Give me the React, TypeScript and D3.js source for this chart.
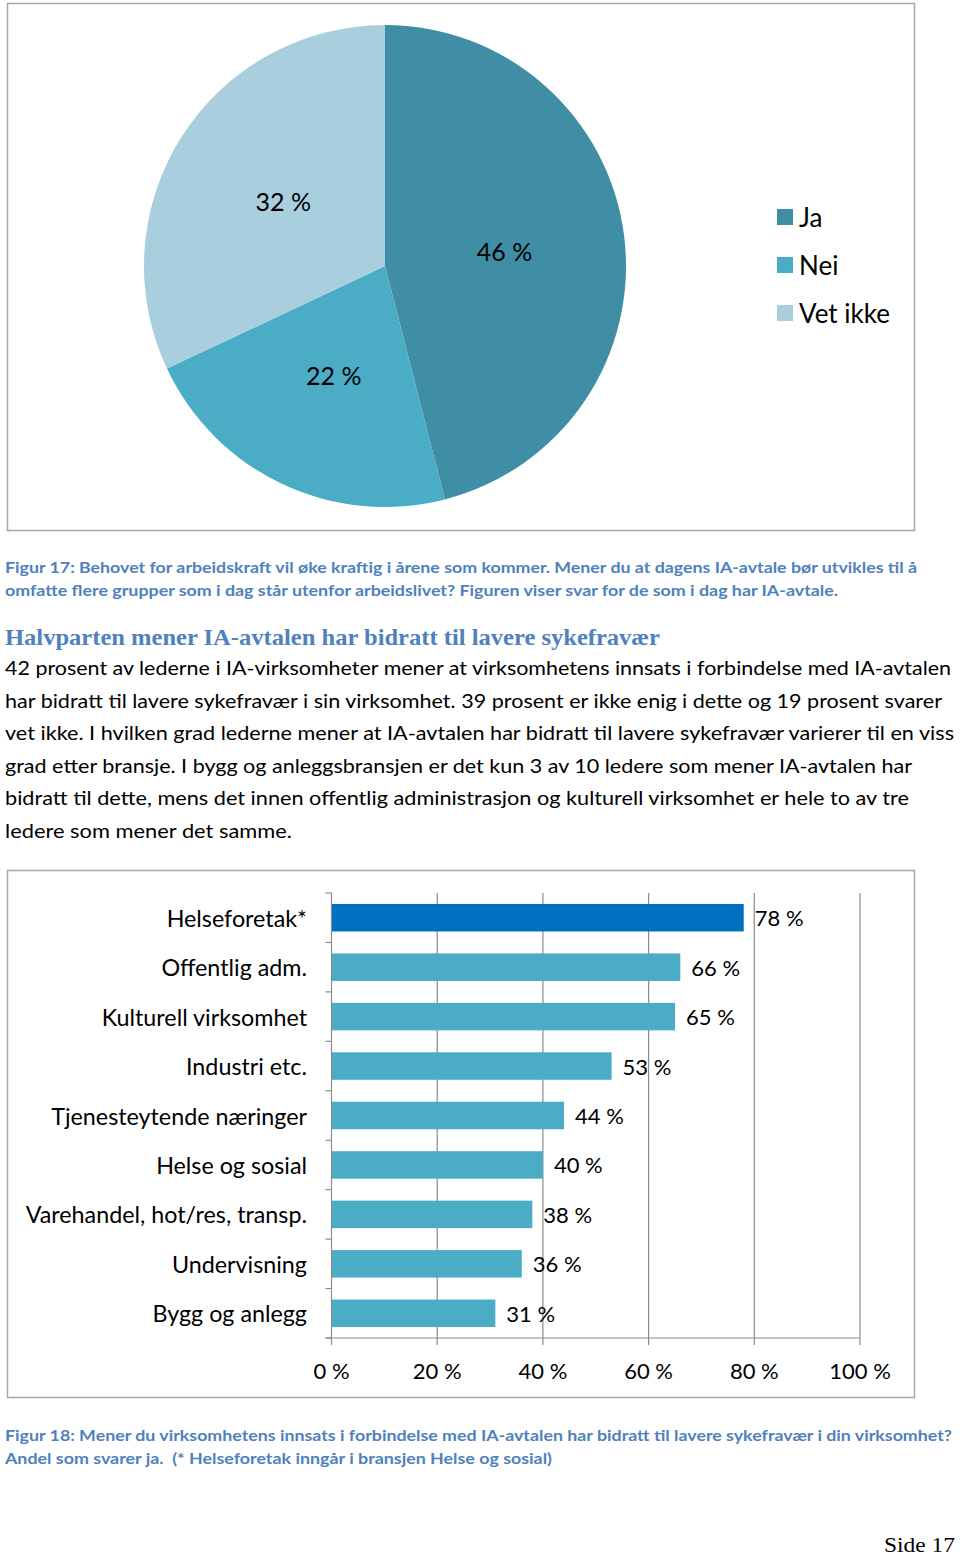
import React from "react";
import * as d3 from "d3";

const pieLabels = ["Ja", "Nei", "Vet ikke"];
const pieValues = [46, 22, 32];
const pieColors = ["#3F8EA5", "#4BACC6", "#A9CEDD"];

const barCategories = [
  "Helseforetak*",
  "Offentlig adm.",
  "Kulturell virksomhet",
  "Industri etc.",
  "Tjenesteytende næringer",
  "Helse og sosial",
  "Varehandel, hot/res, transp.",
  "Undervisning",
  "Bygg og anlegg",
];
const barValues = [78, 66, 65, 53, 44, 40, 38, 36, 31];
const xTicks = [0, 20, 40, 60, 80, 100];

const caption17 = [
  "Figur 17: Behovet for arbeidskraft vil øke kraftig i årene som kommer. Mener du at dagens IA-avtale bør utvikles til å",
  "omfatte flere grupper som i dag står utenfor arbeidslivet? Figuren viser svar for de som i dag har IA-avtale.",
];
const heading = "Halvparten mener IA-avtalen har bidratt til lavere sykefravær";
const bodyLines = [
  "42 prosent av lederne i IA-virksomheter mener at virksomhetens innsats i forbindelse med IA-avtalen",
  "har bidratt til lavere sykefravær i sin virksomhet. 39 prosent er ikke enig i dette og 19 prosent svarer",
  "vet ikke. I hvilken grad lederne mener at IA-avtalen har bidratt til lavere sykefravær varierer til en viss",
  "grad etter bransje. I bygg og anleggsbransjen er det kun 3 av 10 ledere som mener IA-avtalen har",
  "bidratt til dette, mens det innen offentlig administrasjon og kulturell virksomhet er hele to av tre",
  "ledere som mener det samme.",
];
const caption18 = [
  "Figur 18: Mener du virksomhetens innsats i forbindelse med IA-avtalen har bidratt til lavere sykefravær i din virksomhet?",
  "Andel som svarer ja.\u00A0\u00A0(* Helseforetak inngår i bransjen Helse og sosial)",
];

const FONT = "Lato, 'Open Sans', sans-serif";
const BLUE = "#4F81BD";
const GRID = "#8C8C8C";

export default function App() {
  // Pie
  const cx = 385, cy = 266, r = 241;
  const pie = d3.pie<number>().sort(null).value((d) => d)(pieValues);
  const arc = d3.arc<d3.PieArcDatum<number>>().innerRadius(0).outerRadius(r);

  // Bars
  const top = 893, axisY = 1338;
  const x = d3.scaleLinear().domain([0, 100]).range([331.5, 860]);
  const y = d3.scaleBand<string>().domain(barCategories).range([top, axisY]).paddingInner(0.444).paddingOuter(0.222);
  const boundaries = d3.range(barCategories.length + 1).map((i) => top + (i * (axisY - top)) / barCategories.length);

  const caption17W = [912, 833];
  const bodyW = [946, 937, 949, 907, 904, 287];
  const caption18W = [947, 547];

  return (
    <svg width={960} height={1559} style={{ position: "absolute", left: 0, top: 0, background: "#fff" }}>
      {/* Pie chart box */}
      <rect x={7.5} y={3.5} width={907} height={527} fill="#fff" stroke="#A6A6A6" strokeWidth={1.5} />
      <g transform={`translate(${cx},${cy})`}>
        {pie.map((d, i) => (
          <path key={i} d={arc(d) || ""} fill={pieColors[i]} />
        ))}
        {pie.map((d, i) => {
          const [lx, ly] = arc.centroid(d);
          return (
            <text key={i} x={lx} y={ly} textAnchor="middle" dominantBaseline="central" fontFamily={FONT} fontSize={25} fill="#000">
              {pieValues[i]} %
            </text>
          );
        })}
      </g>
      {pieLabels.map((l, i) => (
        <g key={l} transform={`translate(777,${217 + i * 48})`}>
          <rect x={0} y={-8} width={16} height={16} fill={pieColors[i]} />
          <text x={22} y={0} dominantBaseline="central" fontFamily={FONT} fontSize={26} fill="#000">
            {l}
          </text>
        </g>
      ))}

      {/* Caption 17 */}
      {caption17.map((t, i) => (
        <text key={i} x={5} y={573 + i * 23} fontFamily={FONT} fontWeight="bold" fontSize={16} fill={BLUE} textLength={caption17W[i]} lengthAdjust="spacingAndGlyphs">
          {t}
        </text>
      ))}

      {/* Heading */}
      <text x={5} y={645} fontFamily="'Liberation Serif', serif" fontWeight="bold" fontSize={23} fill={BLUE} textLength={655} lengthAdjust="spacingAndGlyphs">
        {heading}
      </text>

      {/* Body */}
      {bodyLines.map((t, i) => (
        <text key={i} x={5} y={675 + i * 32.5} fontFamily={FONT} fontSize={20} fill="#000" textLength={bodyW[i]} lengthAdjust="spacingAndGlyphs">
          {t}
        </text>
      ))}

      {/* Bar chart box */}
      <rect x={7.5} y={870.5} width={907} height={527} fill="#fff" stroke="#A6A6A6" strokeWidth={1.5} />

      {/* gridlines */}
      {xTicks.slice(1).map((t) => (
        <line key={t} x1={x(t)} x2={x(t)} y1={top} y2={axisY + 7} stroke={GRID} strokeWidth={1.2} />
      ))}
      {/* bars */}
      {barCategories.map((c, i) => (
        <rect key={c} x={x(0)} y={y(c)} width={x(barValues[i]) - x(0)} height={y.bandwidth()} fill={i === 0 ? "#0070C0" : "#4BACC6"} />
      ))}
      {/* y axis */}
      <line x1={x(0)} x2={x(0)} y1={top} y2={axisY + 7} stroke={GRID} strokeWidth={1.2} />
      {boundaries.map((b, i) => (
        <line key={i} x1={x(0) - 6} x2={x(0)} y1={b} y2={b} stroke={GRID} strokeWidth={1.2} />
      ))}
      {/* x axis */}
      <line x1={x(0) - 6} x2={x(100)} y1={axisY} y2={axisY} stroke={GRID} strokeWidth={1.2} />
      {/* category labels */}
      {barCategories.map((c) => (
        <text key={c} x={307} y={(y(c) || 0) + y.bandwidth() / 2} textAnchor="end" dominantBaseline="central" fontFamily={FONT} fontSize={23.3} fill="#000">
          {c}
        </text>
      ))}
      {/* value labels */}
      {barCategories.map((c, i) => (
        <text key={c} x={x(barValues[i]) + 11} y={(y(c) || 0) + y.bandwidth() / 2} dominantBaseline="central" fontFamily={FONT} fontSize={22} fill="#000">
          {barValues[i]} %
        </text>
      ))}
      {/* x tick labels */}
      {xTicks.map((t) => (
        <text key={t} x={x(t)} y={1370} textAnchor="middle" dominantBaseline="central" fontFamily={FONT} fontSize={22} fill="#000">
          {t} %
        </text>
      ))}

      {/* Caption 18 */}
      {caption18.map((t, i) => (
        <text key={i} x={5} y={1441 + i * 23} fontFamily={FONT} fontWeight="bold" fontSize={16} fill={BLUE} textLength={caption18W[i]} lengthAdjust="spacingAndGlyphs">
          {t}
        </text>
      ))}

      {/* Page number */}
      <text x={955} y={1552} textAnchor="end" fontFamily="'Liberation Serif', serif" fontSize={22} fill="#000" textLength={71} lengthAdjust="spacingAndGlyphs">
        Side 17
      </text>
    </svg>
  );
}
